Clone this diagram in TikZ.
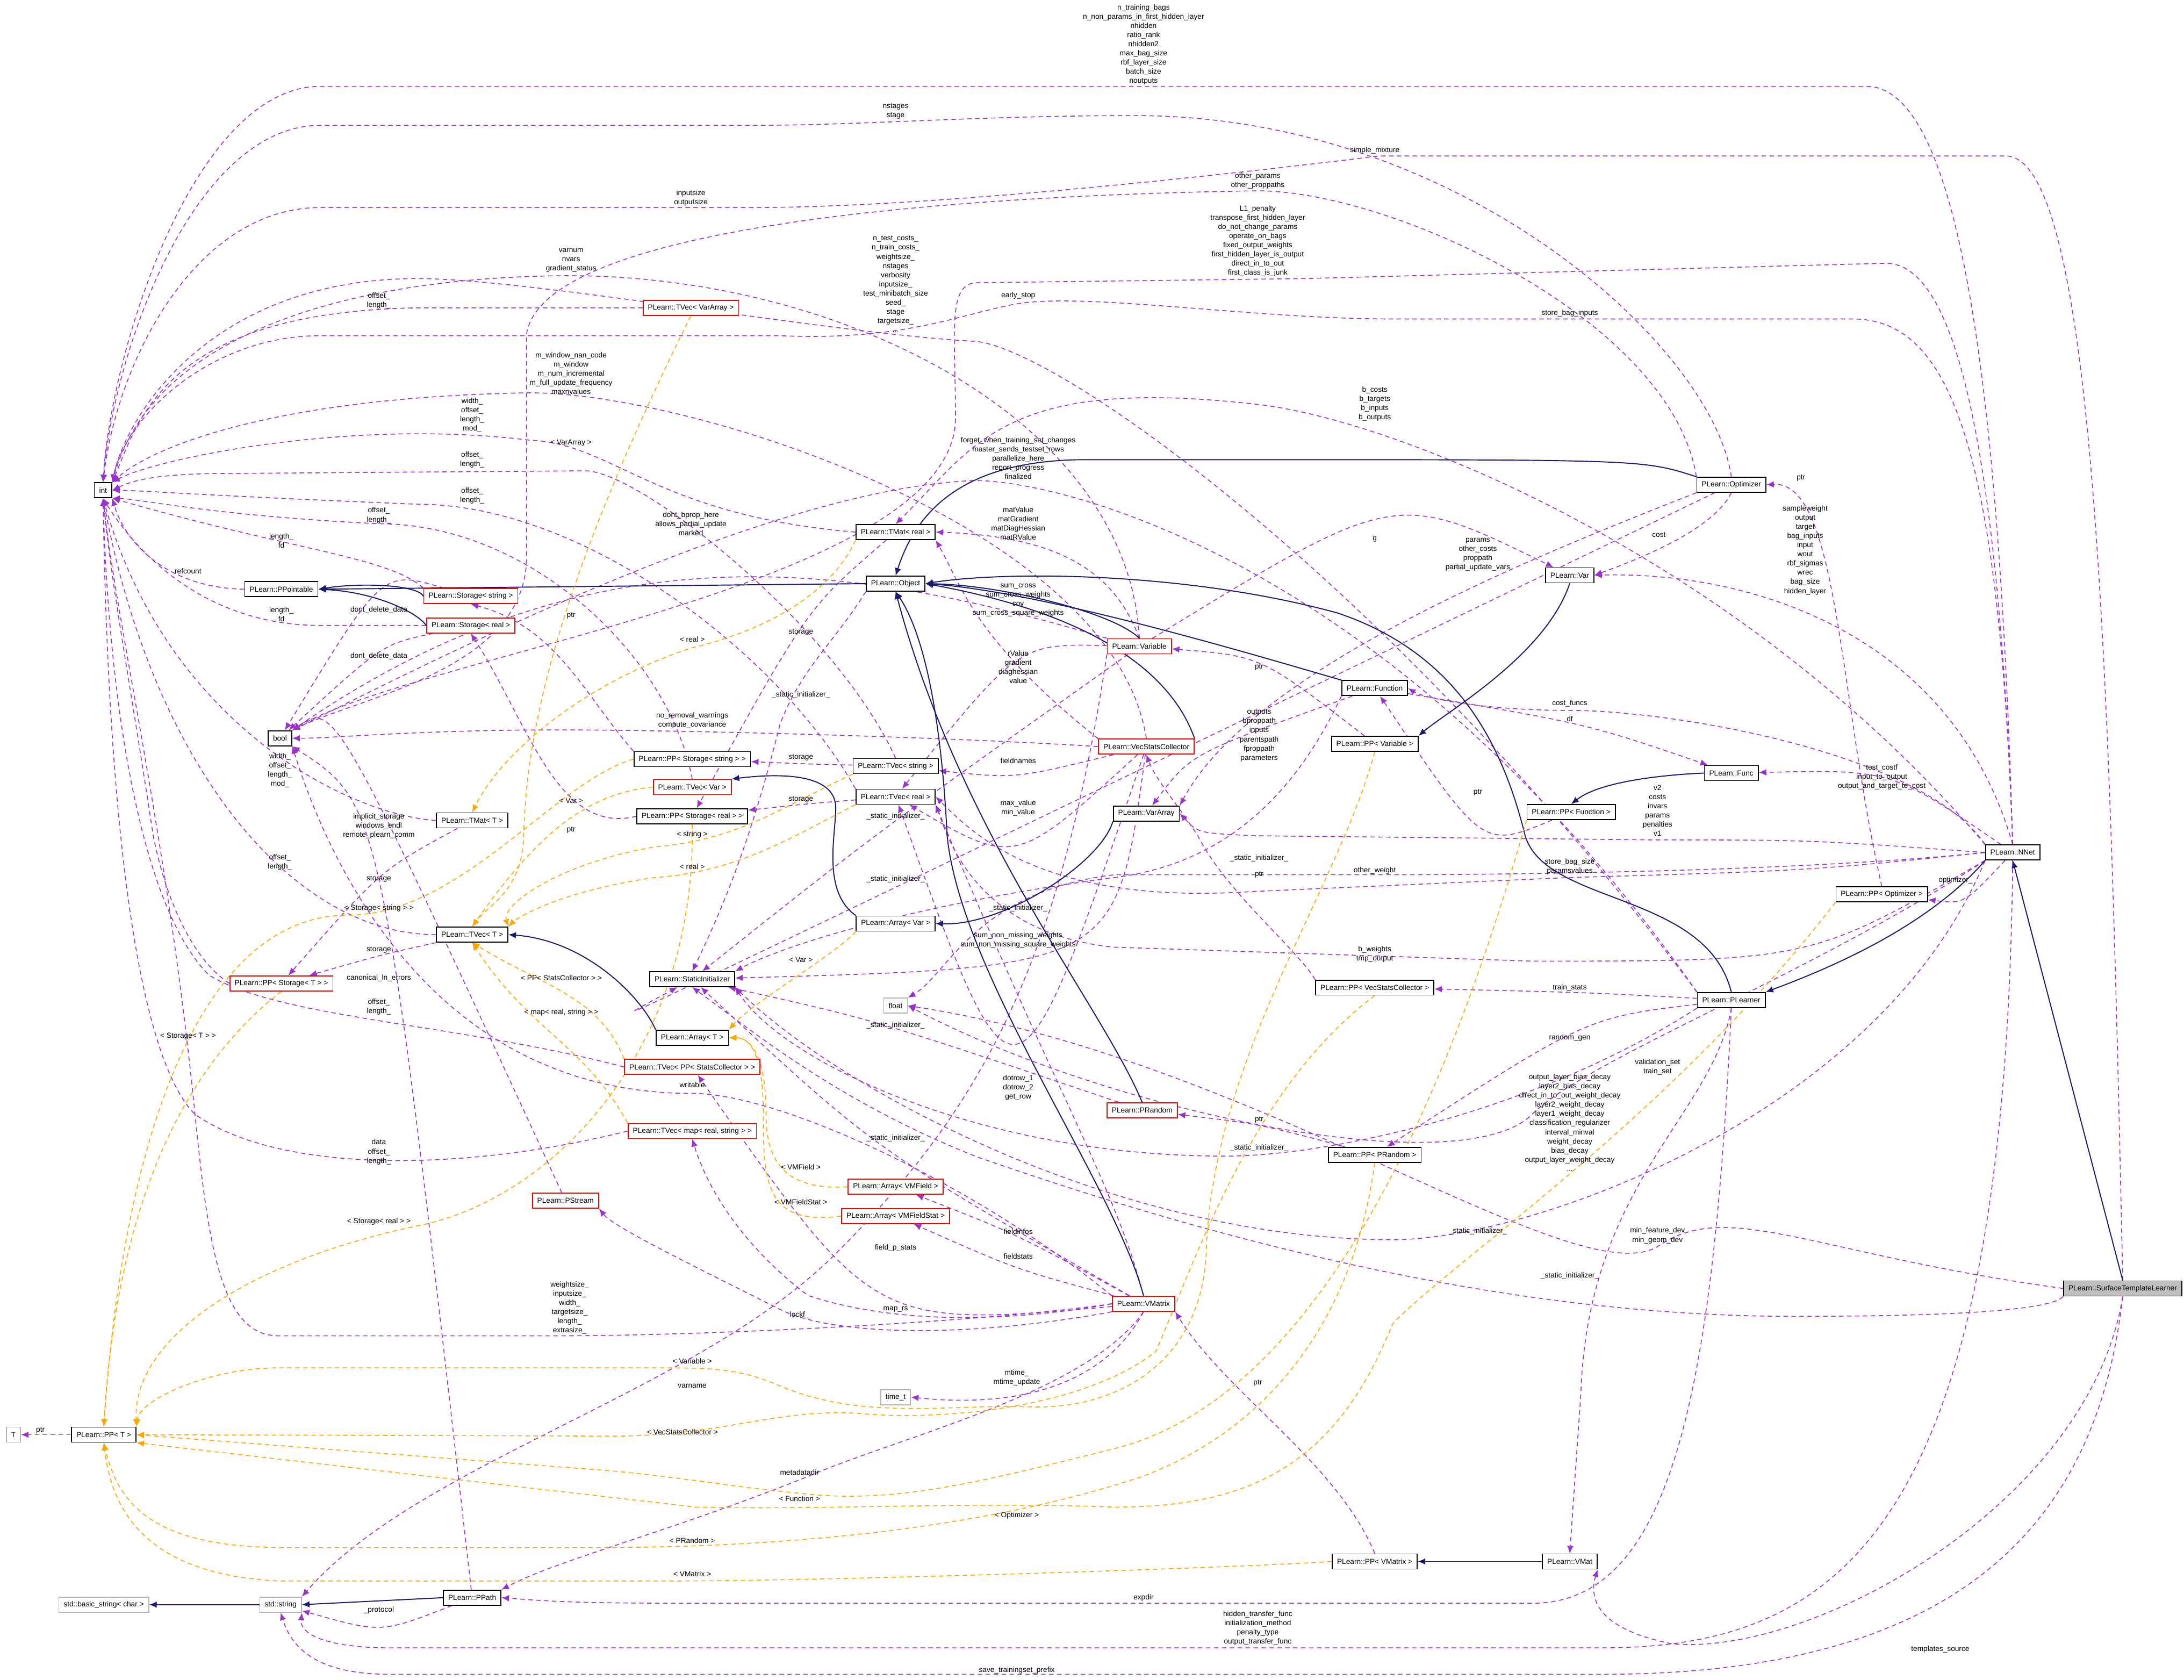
\documentclass[tikz,border=0pt]{standalone}
\usepackage{fontspec}
\setmainfont{Liberation Sans}
\usetikzlibrary{arrows.meta,calc}
\definecolor{pur}{HTML}{9A32CD}
\definecolor{nav}{HTML}{191970}
\definecolor{org}{HTML}{FFA500}
\newcommand\fs{\fontsize{3.9}{4.85}\selectfont}
\pgfdeclarelayer{bg}
\pgfsetlayers{bg,main}
\tikzset{
 box/.style={draw=black,fill=white,font=\fs,inner xsep=0.09cm,inner ysep=0pt,minimum height=0.28cm,line width=0.5pt},
 rbox/.style={box,draw=red},
 gbox/.style={box,draw=black!30},
 lbl/.style={font=\fs,align=center,inner sep=0pt,text=black},
 U/.style={draw=pur,dash pattern=on 2.4pt off 1.8pt,line width=0.45pt,-{Latex[length=4pt,width=3.4pt]}},
 I/.style={draw=nav,line width=0.55pt,-{Latex[length=4pt,width=3.4pt]}},
 O/.style={draw=org,dash pattern=on 2.4pt off 1.8pt,line width=0.45pt,-{Latex[length=4pt,width=3.4pt]}},
}
\newcommand\Ev[4]{\draw[#1] (#2) .. controls ($2*#3-0.5*(#2)-0.5*(#4)$) .. (#4);}
\newcommand\Lb[3]{\node[lbl] (#1) at #2 {#3};}
\begin{document}
\begin{tikzpicture}[x=0.02592cm,y=-0.02592cm]
\useasboundingbox (0,0) rectangle (1568,1206);
% nodes
\node[box] (int) at (74,352) {int};
\node[box] (PPointable) at (202,423) {PLearn::PPointable};
\node[rbox] (StorStr) at (338,428) {PLearn::Storage< string >};
\node[rbox] (StorReal) at (338,449) {PLearn::Storage< real >};
\node[box] (bool) at (201,530) {bool};
\node[rbox] (TVecVA) at (496,221) {PLearn::TVec< VarArray >};
\node[box] (TMatReal) at (643,382) {PLearn::TMat< real >};
\node[box] (Object) at (643,419) {PLearn::Object};
\node[rbox] (Variable) at (818,464) {PLearn::Variable};
\node[box] (Function) at (987,494) {PLearn::Function};
\node[box] (Optimizer) at (1243,348) {PLearn::Optimizer};
\node[box] (Var) at (1127,413) {PLearn::Var};
\node[box] (PPVariable) at (987,534) {PLearn::PP< Variable >};
\node[box] (Func) at (1243,555) {PLearn::Func};
\node[box] (PPFunction) at (1128,583) {PLearn::PP< Function >};
\node[box] (VarArray) at (823,584) {PLearn::VarArray};
\node[box] (NNet) at (1445,612) {PLearn::NNet};
\node[box] (PPOpt) at (1351,642) {PLearn::PP< Optimizer >};
\node[box] (PPStorStr) at (497,545) {PLearn::PP< Storage< string > >};
\node[box] (TVecStr) at (643,550) {PLearn::TVec< string >};
\node[rbox] (VSC) at (823,536) {PLearn::VecStatsCollector};
\node[box] (TVecReal) at (643,572) {PLearn::TVec< real >};
\node[rbox] (TVecVar) at (497,565) {PLearn::TVec< Var >};
\node[box] (PPStorReal) at (497,586) {PLearn::PP< Storage< real > >};
\node[box] (TMatT) at (339,589) {PLearn::TMat< T >};
\node[box] (TVecT) at (339,671) {PLearn::TVec< T >};
\node[box] (ArrayVar) at (643,663) {PLearn::Array< Var >};
\node[box] (StatInit) at (497,703) {PLearn::StaticInitializer};
\node[gbox] (float) at (643,722) {float};
\node[box] (PPVSC) at (987,709) {PLearn::PP< VecStatsCollector >};
\node[box] (PLearner) at (1243,718) {PLearn::PLearner};
\node[rbox] (PPStorT) at (202,706) {PLearn::PP< Storage< T > >};
\node[box] (ArrayT) at (497,745) {PLearn::Array< T >};
\node[rbox] (TVecPPSC) at (497,766) {PLearn::TVec< PP< StatsCollector > >};
\node[rbox] (PRandom) at (820,797) {PLearn::PRandom};
\node[box] (PPPRandom) at (987,829) {PLearn::PP< PRandom >};
\node[rbox] (TVecMap) at (497,812) {PLearn::TVec< map< real, string > >};
\node[rbox] (ArrVMF) at (643,852) {PLearn::Array< VMField >};
\node[rbox] (ArrVMFS) at (643,873) {PLearn::Array< VMFieldStat >};
\node[rbox] (PStream) at (406,862) {PLearn::PStream};
\node[rbox] (VMatrix) at (821,936) {PLearn::VMatrix};
\node[box,fill=black!25] (STL) at (1524,925) {PLearn::SurfaceTemplateLearner};
\node[gbox] (timet) at (643,1003) {time\_t};
\node[gbox] (T) at (9.6,1030) {T};
\node[box] (PPT) at (74.5,1030) {PLearn::PP< T >};
\node[box] (PPVMatrix) at (987,1121) {PLearn::PP< VMatrix >};
\node[box] (VMat) at (1127,1121) {PLearn::VMat};
\node[gbox] (basicstr) at (74.5,1152) {std::basic\_string< char >};
\node[gbox] (stdstr) at (201.5,1152) {std::string};
\node[box] (PPath) at (339,1147) {PLearn::PPath};
% labels
\Lb{l1}{(821,32)}{n\_training\_bags\\n\_non\_params\_in\_first\_hidden\_layer\\nhidden\\ratio\_rank\\nhidden2\\max\_bag\_size\\rbf\_layer\_size\\batch\_size\\noutputs}
\Lb{l2}{(643,80)}{nstages\\stage}
\Lb{l3}{(987,108)}{simple\_mixture}
\Lb{l4}{(496,142)}{inputsize\\outputsize}
\Lb{l5}{(903,130)}{other\_params\\other\_proppaths}
\Lb{l6}{(903,173)}{L1\_penalty\\transpose\_first\_hidden\_layer\\do\_not\_change\_params\\operate\_on\_bags\\fixed\_output\_weights\\first\_hidden\_layer\_is\_output\\direct\_in\_to\_out\\first\_class\_is\_junk}
\Lb{l7}{(643,204)}{n\_test\_costs\_\\n\_train\_costs\_\\weightsize\_\\nstages\\verbosity\\inputsize\_\\test\_minibatch\_size\\seed\_\\stage\\targetsize\_\\...}
\Lb{l8}{(731,212)}{early\_stop}
\Lb{l9}{(1127,225)}{store\_bag\_inputs}
\Lb{l10}{(410,187)}{varnum\\nvars\\gradient\_status}
\Lb{l11}{(272,216)}{offset\_\\length\_}
\Lb{l12}{(410,268)}{m\_window\_nan\_code\\m\_window\\m\_num\_incremental\\m\_full\_update\_frequency\\maxnvalues}
\Lb{l13}{(339,298)}{width\_\\offset\_\\length\_\\mod\_}
\Lb{l14}{(410,318)}{< VarArray >}
\Lb{l15}{(339,330)}{offset\_\\length\_}
\Lb{l16}{(339,356)}{offset\_\\length\_}
\Lb{l17}{(272,370)}{offset\_\\length\_}
\Lb{l18}{(202,388)}{length\_\\fd}
\Lb{l19}{(135,410)}{refcount}
\Lb{l20}{(496,376)}{dont\_bprop\_here\\allows\_partial\_update\\marked}
\Lb{l21}{(731,329)}{forget\_when\_training\_set\_changes\\master\_sends\_testset\_rows\\parallelize\_here\\report\_progress\\finalized}
\Lb{l22}{(731,376)}{matValue\\matGradient\\matDiagHessian\\matRValue}
\Lb{l23}{(987,290)}{b\_costs\\b\_targets\\b\_inputs\\b\_outputs}
\Lb{l24}{(987,387)}{g}
\Lb{l25}{(1061,398)}{params\\other\_costs\\proppath\\partial\_update\_vars}
\Lb{l26}{(1191,384)}{cost}
\Lb{l27}{(1293,343)}{ptr}
\Lb{l28}{(1296,395)}{sampleweight\\output\\target\\bag\_inputs\\input\\wout\\rbf\_sigmas\\wrec\\bag\_size\\hidden\_layer}
\Lb{l29}{(731,431)}{sum\_cross\\sum\_cross\_weights\\cov\\sum\_cross\_square\_weights}
\Lb{l30}{(202,441)}{length\_\\fd}
\Lb{l31}{(272,438)}{dont\_delete\_data}
\Lb{l32}{(272,471)}{dont\_delete\_data}
\Lb{l33}{(410,442)}{ptr}
\Lb{l34}{(497,459)}{< real >}
\Lb{l35}{(575,454)}{storage}
\Lb{l36}{(575,499)}{\_static\_initializer\_}
\Lb{l37}{(731,479)}{rValue\\gradient\\diaghessian\\value}
\Lb{l38}{(904,528)}{outputs\\bproppath\\inputs\\parentspath\\fproppath\\parameters}
\Lb{l39}{(904,479)}{ptr}
\Lb{l40}{(1127,505)}{cost\_funcs}
\Lb{l41}{(1127,516)}{df}
\Lb{l42}{(497,517)}{no\_removal\_warnings\\compute\_covariance}
\Lb{l43}{(575,544)}{storage}
\Lb{l44}{(731,546)}{fieldnames}
\Lb{l45}{(410,575)}{< Var >}
\Lb{l46}{(201,553)}{width\_\\offset\_\\length\_\\mod\_}
\Lb{l47}{(575,574)}{storage}
\Lb{l48}{(731,580)}{max\_value\\min\_value}
\Lb{l49}{(272,593)}{implicit\_storage\\windows\_endl\\remote\_plearn\_comm}
\Lb{l50}{(410,596)}{ptr}
\Lb{l51}{(497,599)}{< string >}
\Lb{l52}{(1351,558)}{test\_costf\\input\_to\_output\\output\_and\_target\_to\_cost}
\Lb{l53}{(1190,582)}{v2\\costs\\invars\\params\\penalties\\v1}
\Lb{l54}{(1061,569)}{ptr}
\Lb{l55}{(643,586)}{\_static\_initializer\_}
\Lb{l56}{(497,622)}{< real >}
\Lb{l57}{(201,619)}{offset\_\\length\_}
\Lb{l58}{(272,631)}{storage}
\Lb{l59}{(272,652)}{< Storage< string > >}
\Lb{l60}{(643,631)}{\_static\_initializer\_}
\Lb{l61}{(904,616)}{\_static\_initializer\_}
\Lb{l62}{(904,628)}{ptr}
\Lb{l63}{(987,625)}{other\_weight}
\Lb{l64}{(731,652)}{\_static\_initializer\_}
\Lb{l65}{(1127,622)}{store\_bag\_size\\paramsvalues}
\Lb{l66}{(731,675)}{sum\_non\_missing\_weights\\sum\_non\_missing\_square\_weights}
\Lb{l67}{(272,682)}{storage}
\Lb{l68}{(575,689)}{< Var >}
\Lb{l69}{(987,685)}{b\_weights\\tmp\_output}
\Lb{l70}{(272,702)}{canonical\_ln\_errors}
\Lb{l71}{(403,702)}{< PP< StatsCollector > >}
\Lb{l72}{(272,723)}{offset\_\\length\_}
\Lb{l73}{(1127,709)}{train\_stats}
\Lb{l74}{(403,727)}{< map< real, string > >}
\Lb{l75}{(643,736)}{\_static\_initializer\_}
\Lb{l76}{(1127,745)}{random\_gen}
\Lb{l77}{(1190,766)}{validation\_set\\train\_set}
\Lb{l78}{(1127,806)}{output\_layer\_bias\_decay\\layer2\_bias\_decay\\direct\_in\_to\_out\_weight\_decay\\layer2\_weight\_decay\\layer1\_weight\_decay\\classification\_regularizer\\interval\_minval\\weight\_decay\\bias\_decay\\output\_layer\_weight\_decay\\...}
\Lb{l79}{(731,781)}{dotrow\_1\\dotrow\_2\\get\_row}
\Lb{l80}{(497,779)}{writable}
\Lb{l81}{(904,804)}{ptr}
\Lb{l82}{(904,824)}{\_static\_initializer\_}
\Lb{l83}{(575,838)}{< VMField >}
\Lb{l84}{(272,827)}{data\\offset\_\\length\_}
\Lb{l85}{(575,863)}{< VMFieldStat >}
\Lb{l86}{(643,817)}{\_static\_initializer\_}
\Lb{l87}{(731,884)}{fieldinfos}
\Lb{l88}{(731,902)}{fieldstats}
\Lb{l89}{(643,896)}{field\_p\_stats}
\Lb{l90}{(272,877)}{< Storage< real > >}
\Lb{l91}{(1061,884)}{\_static\_initializer\_}
\Lb{l92}{(1190,887)}{min\_feature\_dev\\min\_geom\_dev}
\Lb{l93}{(1127,916)}{\_static\_initializer\_}
\Lb{l94}{(409,939)}{weightsize\_\\inputsize\_\\width\_\\targetsize\_\\length\_\\extrasize\_}
\Lb{l95}{(574,944)}{lockf\_}
\Lb{l96}{(643,940)}{map\_rs}
\Lb{l97}{(497,977)}{< Variable >}
\Lb{l98}{(730,989)}{mtime\_\\mtime\_update}
\Lb{l99}{(490,1028)}{< VecStatsCollector >}
\Lb{l100}{(574,1057)}{metadatadir}
\Lb{l101}{(903,993)}{ptr}
\Lb{l102}{(574,1076)}{< Function >}
\Lb{l103}{(730,1088)}{< Optimizer >}
\Lb{l104}{(497,995)}{varname}
\Lb{l105}{(29,1027)}{ptr}
\Lb{l106}{(497,1106)}{< PRandom >}
\Lb{l107}{(497,1130)}{< VMatrix >}
\Lb{l108}{(821,1147)}{expdir}
\Lb{l109}{(272,1156)}{\_protocol}
\Lb{l110}{(903,1169)}{hidden\_transfer\_func\\initialization\_method\\penalty\_type\\output\_transfer\_func}
\Lb{l111}{(730,1199)}{save\_trainingset\_prefix}
\Lb{l112}{(1393,1184)}{templates\_source}
\Lb{l113}{(135,744)}{< Storage< T > >}
\Lb{l114}{(1404,632)}{optimizer\_}
\begin{pgfonlayer}{bg}
% long edges to int
\draw[U] (NNet.north) .. controls (1436,300) and (1410,62) .. (1340,62) -- (230,62) .. controls (140,62) and (80,250) .. (int.north);
\draw[U] (Optimizer.north) .. controls (1230,250) and (1050,83) .. (815,83) .. controls (700,83) and (620,90) .. (540,90) -- (230,90) .. controls (140,90) and (82,250) .. (int.north);
\draw[U] (STL.north) .. controls (1515,500) and (1505,112) .. (1440,112) -- (990,112) .. controls (760,140) and (620,149) .. (540,149) -- (230,149) .. controls (140,149) and (84,260) .. (int.north);
\draw[U] (Optimizer.north west) .. controls (1200,230) and (1000,137) .. (903,137) .. controls (700,140) and (390,160) .. (378,240) -- (378,400) .. controls (378,480) and (260,500) .. (bool.north east);
\draw[U] (NNet.north) .. controls (1434,300) and (1400,189) .. (1354,189) -- (936,200) -- (700,203) .. controls (680,205) and (686,240) .. (686,300) .. controls (686,420) and (300,470) .. (bool.north east);
\draw[U] (NNet.north) .. controls (1435,320) and (1400,229) .. (1330,229) -- (1000,229) .. controls (900,229) and (780,210) .. (731,218) .. controls (690,225) and (650,245) .. (560,241) -- (230,241) .. controls (150,241) and (90,300) .. (int.north east);
\draw[U] (PLearner.north west) .. controls (1000,420) and (760,250) .. (700,245) .. controls (600,240) and (380,200) .. (300,200) .. controls (150,200) and (90,300) .. (int.north east);
\draw[U] (Variable.north) .. controls (810,300) and (600,195) .. (400,198) .. controls (250,200) and (110,240) .. (int.north east);
\draw[U] (TVecVA.west) -- (300,221) .. controls (120,224) and (100,300) .. (int.north east);
\draw[U] (VSC.north) .. controls (800,380) and (500,282) .. (380,282) .. controls (200,285) and (110,320) .. (int.north east);
\draw[U] (TMatReal.west) .. controls (470,370) and (440,318) .. (380,316) .. controls (250,300) and (110,330) .. (int.north east);
\draw[U] (TVecStr.north) .. controls (600,450) and (460,338) .. (420,338) -- (150,340) .. controls (110,341) and (95,345) .. (int.east);
\draw[U] (TVecReal.north west) .. controls (560,470) and (420,362) .. (300,362) .. controls (150,356) and (100,352) .. (int.east);
\draw[U] (TVecVar.north) .. controls (480,470) and (380,376) .. (272,376) .. controls (150,370) and (100,358) .. (int.south east);
\draw[U] (StorStr.north west) .. controls (280,400) and (210,395) .. (int.south east);
\draw[U] (PPointable.west) .. controls (120,422) and (90,390) .. (int.south east);
\draw[U] (StorReal.west) -- (230,449) .. controls (150,449) and (100,400) .. (int.south);
\draw[U] (TMatT.west) .. controls (250,585) and (120,520) .. (int.south);
\draw[U] (TVecT.west) .. controls (210,671) and (110,550) .. (int.south);
\draw[U] (TVecPPSC.west) .. controls (330,735) and (200,731) .. (150,700) .. controls (100,650) and (78,500) .. (int.south);
\draw[U] (TVecMap.west) .. controls (330,842) and (200,842) .. (140,800) .. controls (100,760) and (78,600) .. (int.south);
\draw[U] (VMatrix.west) .. controls (700,950) and (500,959) .. (400,959) -- (200,959) .. controls (160,959) and (150,900) .. (140,800) .. controls (120,600) and (84,450) .. (int.south);
% bools
\draw[U] (Variable.north west) .. controls (600,400) and (420,380) .. (bool.north east);
\draw[U] (PLearner.north west) .. controls (1000,400) and (760,345) .. (700,345) .. controls (550,350) and (300,480) .. (bool.north east);
\draw[U] (VSC.west) .. controls (700,530) and (500,524) .. (400,524) .. controls (300,524) and (240,530) .. (bool.east);
\Ev{U}{StorStr}{(272,444)}{bool}
\Ev{U}{StorReal}{(272,476)}{bool}
\Ev{U}{PStream}{(272,600)}{bool}
\Ev{U}{PPath}{(272,708)}{bool}
\draw[U] (VMatrix.north west) .. controls (700,850) and (560,785) .. (497,785) .. controls (300,785) and (230,600) .. (bool.south east);
% misc uses
\draw[U] (Variable.north) .. controls (800,410) and (760,385) .. (TMatReal.east);
\draw[U] (NNet.north west) .. controls (1250,400) and (1000,300) .. (900,290) .. controls (720,270) and (700,320) .. (TMatReal.north);
\draw[U] (VSC.north west) .. controls (700,460) and (690,420) .. (TMatReal.south east);
\Ev{U}{Variable}{(987,395)}{Var}
\draw[U] (Optimizer.south west) .. controls (1100,400) and (900,480) .. (VarArray.north east);
\draw[U] (Optimizer.south) .. controls (1230,380) and (1180,400) .. (Var.east);
\draw[U] (PPOpt.north) .. controls (1320,500) and (1320,345) .. (Optimizer.east);
\draw[U] (NNet.north) .. controls (1400,450) and (1250,410) .. (Var.east);
\Ev{U}{Variable}{(731,490)}{TVecReal}
\Ev{U}{Function}{(880,540)}{VarArray}
\Ev{U}{PPVariable}{(904,485)}{Variable}
\draw[U] (NNet.north west) .. controls (1380,540) and (1200,510) .. (1127,510) .. controls (1060,510) and (1020,500) .. (Function.east);
\Ev{U}{Function}{(1127,522)}{Func}
\Ev{U}{PPFunction}{(1061,574)}{Function}
\Ev{U}{TVecStr}{(575,548)}{PPStorStr}
\Ev{U}{TVecReal}{(575,578)}{PPStorReal}
\Ev{U}{TMatReal}{(575,460)}{PPStorReal}
\draw[U] (PPStorStr.north west) .. controls (420,500) and (400,450) .. (StorStr.south);
\draw[U] (PPStorReal.west) .. controls (400,600) and (380,520) .. (StorReal.south);
\Ev{U}{VSC}{(731,551)}{TVecStr}
\Ev{U}{VSC}{(731,588)}{TVecReal}
\Ev{U}{VSC}{(731,683)}{TVecReal}
\Ev{U}{NNet}{(1351,568)}{Func}
\draw[U] (NNet.west) .. controls (1300,603) .. (1190,603) -- (900,600) .. controls (860,598) .. (VarArray.east);
\Ev{U}{NNet}{(1404,638)}{PPOpt}
\draw[U] (NNet.west) .. controls (1300,625) .. (1127,630) -- (900,640) .. controls (750,650) and (700,600) .. (TVecReal.east);
\draw[U] (NNet.south west) .. controls (1300,690) .. (1100,690) -- (800,680) .. controls (700,670) and (680,600) .. (TVecReal.south east);
\draw[U] (NNet.west) .. controls (1300,625) and (1100,628) .. (987,628) -- (800,628) .. controls (700,640) and (680,700) .. (float.north east);
\draw[U] (NNet.south west) .. controls (1300,700) and (1140,760) .. (1100,800) .. controls (1050,850) and (800,800) .. (float.east);
\draw[U] (STL.west) .. controls (1300,900) and (1240,860) .. (1190,895) .. controls (1130,930) and (900,760) .. (float.east);
\Ev{U}{PLearner}{(1127,713)}{PPVSC}
\Ev{U}{PLearner}{(1127,752)}{PPPRandom}
\draw[U] (PLearner.south) .. controls (1230,800) and (1140,850) .. (1135,1000) -- (VMat.north);
\Ev{U}{PPPRandom}{(904,810)}{PRandom}
\draw[U] (PPVSC.north west) .. controls (930,680) and (880,640) .. (860,600) .. controls (840,570) and (830,560) .. (VSC.south);
\Ev{U}{TMatT}{(272,636)}{PPStorT}
\Ev{U}{TVecT}{(272,687)}{PPStorT}
\draw[U] (PPStorT.west) .. controls (140,690) and (120,650) .. (110,600) .. controls (95,500) and (80,420) .. (int.south);
\draw[U] (PPT.west) -- (T.east);
\draw[U] (VMatrix.south) .. controls (790,1000) and (720,1010) .. (timet.east);
\draw[U] (VMatrix.south west) .. controls (700,960) and (600,960) .. (560,940) .. controls (480,900) and (440,880) .. (PStream.south east);
\draw[U] (VMatrix.west) .. controls (720,950) and (640,950) .. (580,930) .. controls (540,900) and (510,860) .. (TVecMap.south);
\Ev{U}{VMatrix}{(643,902)}{TVecPPSC}
\Ev{U}{VMatrix}{(731,890)}{ArrVMF}
\Ev{U}{VMatrix}{(731,908)}{ArrVMFS}
\draw[U] (VMatrix.south) .. controls (780,1000) and (650,1030) .. (580,1060) .. controls (480,1100) and (400,1120) .. (PPath.north east);
\draw[U] (VMatrix.north) .. controls (800,850) and (760,790) .. (TVecReal.south east);
\draw[U] (PPVMatrix.north) .. controls (960,1050) and (880,1000) .. (VMatrix.south east);
\draw[U] (PLearner.south) .. controls (1230,1000) and (1200,1151) .. (1100,1151) -- (500,1151) .. controls (420,1151) and (400,1150) .. (PPath.east);
\draw[U] (Variable.south west) .. controls (760,700) and (700,800) .. (600,900) .. controls (500,1000) and (300,1050) .. (stdstr.north east);
\Ev{U}{PPath}{(272,1161)}{stdstr}
\draw[U] (NNet.south) .. controls (1440,1100) and (1320,1183) .. (1150,1183) -- (280,1183) .. controls (240,1183) and (215,1175) .. (stdstr.south east);
\draw[U] (STL.south) .. controls (1505,1100) and (1400,1202) .. (1150,1202) -- (280,1202) .. controls (230,1202) and (210,1185) .. (stdstr.south);
\draw[U] (STL.south) .. controls (1500,1080) and (1300,1190) .. (1200,1180) .. controls (1150,1170) and (1140,1150) .. (VMat.south east);
% static initializer
\draw[U] (Object.south west) .. controls (600,460) and (575,480) .. (560,520) .. controls (540,600) and (520,650) .. (StatInit.north);
\Ev{U}{Variable}{(643,591)}{StatInit}
\Ev{U}{VSC}{(731,657)}{StatInit}
\Ev{U}{Optimizer}{(643,636)}{StatInit}
\draw[U] (Function.south west) .. controls (930,570) and (880,620) .. (800,630) .. controls (650,650) and (560,680) .. (StatInit.north east);
\Ev{U}{PRandom}{(643,741)}{StatInit}
\draw[U] (PLearner.south west) .. controls (1100,800) and (950,830) .. (880,830) .. controls (700,830) and (560,760) .. (StatInit.south east);
\Ev{U}{VMatrix}{(643,822)}{StatInit}
\draw[U] (NNet.south west) .. controls (1350,800) and (1100,890) .. (1000,890) .. controls (800,890) and (600,780) .. (StatInit.south east);
\draw[U] (STL.south west) .. controls (1470,944) and (1350,945) .. (1287,945) .. controls (1100,945) and (900,900) .. (700,830) .. controls (600,790) and (540,740) .. (StatInit.south);
% inheritance
\draw[I] (Optimizer.north west) .. controls (1180,330) .. (900,330) -- (780,330) .. controls (700,330) and (660,360) .. (Object.north);
\draw[I] (Object.west) -- (PPointable.east);
\draw[I] (StorStr.west) .. controls (300,420) and (260,418) .. (PPointable.east);
\draw[I] (StorReal.west) .. controls (300,440) and (270,425) .. (PPointable.east);
\draw[I] (Variable.north) .. controls (800,440) and (720,420) .. (Object.east);
\draw[I] (Function.north west) .. controls (900,470) and (750,425) .. (Object.east);
\draw[I] (VSC.north east) .. controls (840,480) and (780,440) .. (Object.east);
\draw[I] (PLearner.north) .. controls (1225,640) and (1110,650) .. (1095,600) .. controls (1080,540) and (1050,470) .. (960,440) .. controls (850,410) and (720,410) .. (Object.east);
\draw[I] (VMatrix.north) .. controls (800,850) and (690,700) .. (680,600) .. controls (675,500) and (660,450) .. (Object.south);
\draw[I] (PRandom.north) .. controls (790,720) and (690,600) .. (Object.south);
\draw[I] (Var.south) .. controls (1110,470) and (1040,510) .. (PPVariable.north east);
\draw[I] (Func.west) .. controls (1200,556) and (1150,560) .. (PPFunction.north);
\draw[I] (VarArray.south west) .. controls (790,620) and (720,665) .. (ArrayVar.east);
\draw[I] (ArrayVar.north west) .. controls (590,640) and (600,600) .. (600,580) .. controls (600,555) and (560,555) .. (TVecVar.north east);
\draw[I] (ArrayT.north west) .. controls (460,715) and (420,675) .. (TVecT.east);
\draw[I] (NNet.south west) .. controls (1380,670) and (1300,700) .. (PLearner.north east);
\draw[I] (STL.north) -- (NNet.south);
\draw[I] (VMat.west) -- (PPVMatrix.east);
\draw[I] (stdstr.west) -- (basicstr.east);
\draw[I] (PPath.west) -- (stdstr.east);
% templates
\draw[O] (TVecVA.south) .. controls (420,380) and (378,500) .. (376,600) .. controls (375,640) and (350,650) .. (TVecT.north);
\draw[O] (TMatReal.south west) .. controls (600,420) and (560,450) .. (497,465) .. controls (420,490) and (360,540) .. (TMatT.north);
\draw[O] (PPStorStr.west) .. controls (400,560) and (330,657) .. (250,657) .. controls (150,657) and (90,800) .. (PPT.north);
\draw[O] (PPStorReal.south) .. controls (500,750) and (400,860) .. (300,880) .. controls (180,905) and (95,960) .. (PPT.north east);
\draw[O] (TVecStr.south west) .. controls (560,580) and (530,603) .. (470,608) .. controls (400,620) and (360,650) .. (TVecT.north east);
\draw[O] (TVecReal.south west) .. controls (570,600) and (530,626) .. (470,630) .. controls (400,640) and (370,660) .. (TVecT.north east);
\draw[O] (TVecVar.west) .. controls (420,570) and (385,600) .. (TVecT.north);
\draw[O] (TVecPPSC.north west) .. controls (430,715) and (390,708) .. (TVecT.south);
\draw[O] (TVecMap.north west) .. controls (420,750) and (380,740) .. (TVecT.south);
\draw[O] (ArrayVar.south west) .. controls (600,685) and (540,720) .. (ArrayT.north east);
\draw[O] (ArrVMF.west) .. controls (560,855) and (550,830) .. (550,800) .. controls (550,760) and (540,745) .. (ArrayT.east);
\draw[O] (ArrVMFS.west) .. controls (550,880) and (548,850) .. (548,800) .. controls (548,760) and (540,745) .. (ArrayT.east);
\draw[O] (PPStorT.south) .. controls (140,760) and (85,850) .. (PPT.north);
\draw[O] (PPVariable.south) .. controls (960,640) and (870,760) .. (866,900) .. controls (862,980) and (800,1012) .. (740,1010) .. controls (680,1008) and (620,1020) .. (560,995) .. controls (530,982) and (510,982) .. (470,982) -- (200,982) .. controls (150,982) and (100,1005) .. (PPT.north east);
\draw[O] (PPVSC.south) .. controls (900,780) and (860,900) .. (830,970) .. controls (780,1010) and (680,1020) .. (620,1015) .. controls (560,1010) and (520,1031) .. (440,1031) -- (PPT.east);
\draw[O] (PPFunction.south west) .. controls (1050,750) and (960,1000) .. (800,1040) .. controls (700,1065) and (640,1080) .. (574,1072) .. controls (530,1068) and (500,1062) .. (440,1056) -- (PPT.east);
\draw[O] (PPOpt.south west) .. controls (1200,800) and (1050,900) .. (1000,950) .. controls (960,1050) and (900,1082) .. (800,1082) .. controls (700,1078) and (600,1084) .. (500,1082) -- (PPT.south east);
\draw[O] (PPPRandom.south) .. controls (970,960) and (900,1030) .. (820,1060) .. controls (700,1100) and (550,1111) .. (430,1111) -- (200,1111) .. controls (110,1110) and (85,1080) .. (PPT.south);
\draw[O] (PPVMatrix.west) .. controls (900,1125) and (600,1135) .. (480,1135) -- (200,1135) .. controls (100,1130) and (80,1080) .. (PPT.south);
\end{pgfonlayer}
\end{tikzpicture}
\end{document}
